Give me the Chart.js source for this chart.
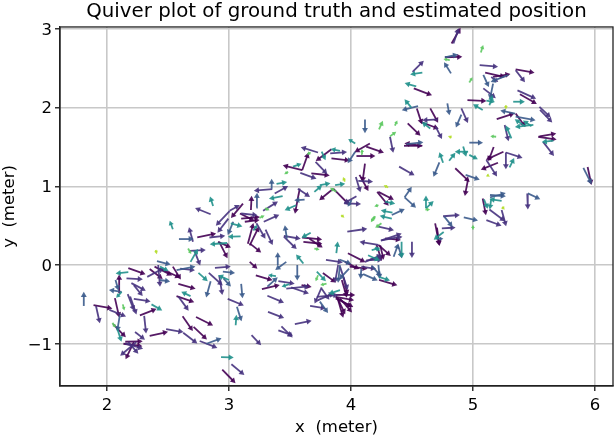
<!DOCTYPE html>
<html>
<head>
<meta charset="utf-8">
<title>Quiver plot</title>
<script src="https://cdn.jsdelivr.net/npm/chart.js@4"></script>
<style>
  html, body { margin: 0; padding: 0; background: #fff; }
  canvas { display: block; }
</style>
</head>
<body>
<canvas id="quiver" width="614" height="436"></canvas>
<script>
const xTickValues = [2, 3, 4, 5, 6];
const yTickValues = [-1, 0, 1, 2, 3];

// one list per colour band, each arrow is [tailX, tailY, tipX, tipY] in metres
const darkPurple = [
  [1.89,-.51,2.04,-.55],[2.10,-.36,2.10,-.13],[2.175,-.04,2.31,-.115],[2.065,-.42,2.10,-.66],
  [2.27,-.64,2.40,-.56],[2.05,-.75,2.15,-.91],[2.22,-.98,2.155,-1.19],[2.15,-.975,2.285,-.97],
  [2.135,-1.0,2.285,-1.03],[2.35,-.90,2.495,-.85],[2.71,-.785,2.815,-.94],[2.62,-.65,2.70,-.83],
  [2.73,-.66,2.865,-.765],[2.57,-.395,2.71,-.47],[2.585,-.24,2.72,-.30],[2.945,-1.33,3.05,-1.495],
  [2.39,-.02,2.53,-.13],[2.35,-.05,2.45,-.17],[2.54,-.02,2.60,-.17],[2.435,-.045,2.60,-.16],
  [2.74,.35,2.89,.40],[2.91,.295,3.005,.23],[2.92,.295,2.985,.095],[3.115,.78,3.02,.605],
  [3.18,.70,3.185,.86],[3.10,.59,3.25,.61],[3.13,.55,3.24,.57],[3.09,.655,3.20,.57],
  [3.155,.27,3.20,.53],[3.17,.25,3.245,.485],[3.60,1.205,3.445,1.265],[3.60,1.205,3.65,1.42],
  [3.84,1.47,3.715,1.325],[3.675,1.165,3.82,1.14],[3.84,1.355,3.985,1.33],[3.58,.97,3.54,.645],
  [3.855,.97,3.745,.83],[3.855,.97,3.99,.76],[3.60,.35,3.76,.325],[3.61,.295,3.76,.27],
  [3.66,.335,3.76,.23],[3.17,.04,3.22,-.03],[3.17,.275,3.255,.17],[3.22,-.13,3.35,-.19],
  [3.27,-.305,3.41,-.255],[3.595,-.255,3.66,-.275],[3.77,-.10,3.87,-.215],[3.925,-.19,3.965,-.405],
  [3.94,-.16,3.97,-.37],[3.875,-.38,4.03,-.38],[3.875,-.405,4.02,-.445],[3.875,-.425,4.015,-.53],
  [3.875,-.405,4.0,-.53],[3.895,-.445,3.935,-.66],[3.89,-.425,3.95,-.615],[3.91,-.425,4.005,-.595],
  [3.95,.04,4.06,-.045],[3.975,.15,4.115,.04],[4.21,.255,4.25,.065],[4.225,.255,4.32,.125],
  [4.28,.34,4.40,.32],[3.99,-.02,4.13,-.045],[4.23,-.19,4.375,-.255],[4.155,1.545,4.035,1.44],
  [4.125,1.505,4.265,1.43],[4.045,1.385,4.195,1.385],[4.115,1.29,4.095,1.06],[4.07,1.145,4.14,.95],
  [4.215,.93,4.305,.76],[4.225,.93,4.345,.835],[4.24,.25,4.265,.085],[4.585,1.515,4.445,1.545],
  [4.435,1.515,4.58,1.515],[4.855,1.23,4.97,1.06],[4.96,1.09,4.935,.89],[5.17,1.50,5.13,1.335],
  [5.25,1.44,5.11,1.34],[5.205,1.30,5.07,1.215],[4.69,.53,4.725,.25],[4.705,.475,4.725,.25],
  [5.08,.845,5.105,.645],[4.825,2.815,4.895,3.005],[4.77,2.64,4.905,2.645],[5.10,2.445,5.26,2.39],
  [5.165,2.39,5.30,2.425],[5.35,2.485,5.50,2.445],[4.515,2.245,4.66,2.16],[5.385,2.17,5.52,2.05],
  [4.955,2.095,5.105,2.085],[4.54,1.99,4.58,1.80],[4.65,1.99,4.71,1.82],[4.57,1.82,4.715,1.735],
  [5.195,1.855,5.335,1.925],[5.35,1.925,5.425,1.765],[4.465,1.80,4.565,1.65],[5.545,1.635,5.675,1.67],
  [5.535,1.63,5.68,1.595],[5.94,1.245,5.97,1.025]
];
const indigo = [
  [1.91,-.52,1.94,-.73],[2.16,-.17,2.285,-.18],[2.20,-.23,2.31,-.32],[2.22,-.255,2.285,-.38],
  [2.22,-.43,2.35,-.46],[2.17,-.37,2.22,-.57],[2.19,-.40,2.24,-.62],[2.02,-.57,2.15,-.65],
  [2.305,-.645,2.32,-.86],[2.23,-.85,2.30,-.935],[2.24,-.98,2.11,-1.15],[2.175,-.98,2.25,-1.115],
  [2.15,-1.0,2.29,-1.06],[2.485,-.815,2.62,-.85],[2.625,-.86,2.735,-.99],[2.585,-.40,2.665,-.57],
  [2.835,-.10,2.945,-.255],[2.92,-.13,2.945,-.375],[2.885,-.035,3.005,-.02],[2.99,-.43,3.115,-.51],
  [3.185,-.89,3.255,-1.005],[2.76,-.965,2.90,-1.05],[3.02,-1.26,3.12,-1.39],[2.68,.18,2.80,.19],
  [2.72,.17,2.76,.01],[2.33,-.15,2.46,-.045],[2.42,0,2.435,-.275],[2.60,-.045,2.71,-.065],
  [2.85,.645,2.73,.72],[2.705,.295,2.675,.465],[2.84,.35,2.96,.37],[3.005,.685,2.895,.505],
  [2.995,.59,2.91,.42],[3.005,.69,3.075,.75],[3.10,.655,3.225,.635],[3.225,.53,3.295,.345],
  [3.30,.45,3.355,.265],[3.28,.69,3.395,.80],[3.285,.55,3.405,.635],[3.355,.965,3.21,.945],
  [3.375,.91,3.475,.995],[3.73,1.43,3.595,1.495],[3.71,1.31,3.80,1.165],[3.585,1.17,3.71,1.10],
  [3.83,1.42,3.96,1.435],[3.565,.97,3.655,.875],[3.45,.37,3.58,.335],[3.45,.36,3.55,.21],
  [3.405,-.205,3.53,-.235],[3.47,-.30,3.66,-.27],[3.51,-.285,3.65,-.36],[3.315,-.39,3.445,-.475],
  [3.32,-.595,3.445,-.67],[3.54,-.75,3.67,-.71],[3.43,-.78,3.515,-.91],[3.405,-.83,3.515,-.89],
  [3.76,-.285,3.705,-.48],[3.76,-.30,3.815,-.425],[3.665,-.52,3.785,-.55],[3.72,-.405,3.895,-.38],
  [3.73,-.445,3.855,-.36],[3.895,0,3.87,-.215],[3.91,-.02,3.975,-.32],[3.795,.065,3.925,.035],
  [3.97,.425,4.13,.46],[4.215,.49,4.345,.445],[4.225,.255,4.075,.295],[4.115,.04,4.25,.125],
  [4.155,.07,4.24,.10],[4.125,.06,4.25,.07],[4.245,.31,4.415,.40],[4.25,.315,4.42,.36],
  [4.50,.295,4.50,.105],[4.085,-.02,4.195,-.045],[4.04,1.12,4.075,.94],[4.06,1.07,4.17,1.06],
  [4.045,.875,3.95,.79],[3.945,.785,4.075,.775],[4.395,1.25,4.515,1.145],[5.11,1.335,5.195,1.13],
  [5.27,1.43,5.27,1.23],[5.27,1.43,5.40,1.365],[4.755,.62,4.885,.635],[4.745,.465,4.845,.475],
  [5.135,.705,5.26,.56],[5.235,.70,5.27,.505],[5.11,.57,5.225,.505],[5.445,.91,5.45,.72],
  [4.84,2.815,4.88,2.995],[4.505,2.455,4.59,2.585],[5.055,2.54,5.20,2.52],[5.35,2.475,5.42,2.335],
  [5.15,2.39,5.195,2.34],[5.085,2.245,5.18,2.13],[5.365,2.22,5.515,2.115],[4.905,1.99,4.955,1.82],
  [4.71,1.85,4.595,1.84],[4.695,1.755,4.74,1.62],[5.545,2.01,5.63,1.885],[5.55,1.97,5.645,1.82],
  [5.26,1.78,5.29,1.585],[4.32,1.63,4.345,1.44],[5.575,1.565,5.66,1.395]
];
const blue = [
  [1.81,-.52,1.81,-.36],[2.12,-.34,2.03,-.32],[2.07,-.19,2.09,-.30],[2.105,-.64,2.085,-.83],
  [2.85,-.205,2.815,-.40],[2.95,-.085,3.035,-.10],[2.955,-.17,3.005,-.255],[3.10,-.24,3.11,-.405],
  [3.065,-.53,3.10,-.70],[2.815,-1.0,2.93,-.935],[2.41,.05,2.51,.01],[2.435,-.19,2.50,-.205],
  [2.57,-.065,2.72,-.02],[2.59,.33,2.70,.33],[3.035,.55,2.995,.40],[3.225,.73,3.23,.90],
  [3.35,.97,3.35,1.07],[3.62,.83,3.553,.825],[3.475,.335,3.46,.485],[3.40,0,3.40,.14],
  [3.47,.04,3.39,-.05],[3.56,0,3.56,-.18],[3.315,-.275,3.39,-.17],[3.745,-.465,3.805,-.595],
  [3.91,0,3.895,-.215],[3.985,-.045,3.91,-.17],[3.905,.07,3.99,.02],[4.35,.105,4.385,.255],
  [4.385,.255,4.415,.105],[4.085,-.045,4.08,-.15],[4.10,-.115,4.21,-.19],[4.17,-.01,4.24,-.13],
  [4.225,0,4.235,-.16],[4.115,1.85,4.115,1.695],[4.035,1.44,3.98,1.31],[4.005,.825,3.98,.76],
  [4.335,.635,4.43,.705],[4.725,1.305,4.68,1.135],[4.455,1.535,4.585,1.56],[4.94,1.145,5.045,1.09],
  [4.97,1.555,5.07,1.555],[4.44,.86,4.49,.975],[4.44,.86,4.525,.74],[4.765,.615,4.825,.50],
  [4.70,.335,4.745,.335],[4.925,.605,5.03,.57],[5.14,.86,5.26,.91],[5.14,.89,5.26,.875],
  [5.45,.91,5.54,.845],[4.77,2.64,4.865,2.67],[4.82,2.435,4.77,2.56],[5.29,2.415,5.15,2.33],
  [5.085,2.415,5.125,2.28],[5.165,2.305,5.14,2.115],[4.55,2.02,4.425,1.97],[4.79,2.055,4.805,1.925],
  [4.905,1.91,4.865,1.765],[5.345,1.925,5.235,1.96],[5.35,1.885,5.51,1.84],[5.905,1.235,5.97,1.035]
];
const teal = [
  [2.12,-.34,2.085,-.40],[2.175,-.09,2.085,-.105],[2.365,-.50,2.44,-.565],[2.085,-.81,2.115,-.955],
  [2.685,-.395,2.625,-.35],[2.75,-.10,2.815,-.19],[3.0,-.19,2.925,-.14],[3.055,-.765,3.06,-.66],
  [2.935,-1.17,3.025,-1.175],[2.685,.04,2.74,.19],[2.435,-.02,2.49,-.065],[2.87,.75,2.85,.845],
  [2.54,.455,2.52,.54],[2.985,.28,2.85,.265],[3.015,.53,3.095,.495],[3.095,.365,3.005,.36],
  [3.20,.44,3.225,.495],[3.44,.875,3.34,.845],[3.39,1.03,3.46,1.05],[3.525,1.25,3.58,1.28],
  [3.76,1.44,3.785,1.355],[3.91,1.45,3.85,1.47],[3.745,1.015,3.815,1.035],[3.70,.93,3.75,.995],
  [3.55,.76,3.47,.705],[3.87,1.015,3.935,1.03],[3.67,.41,3.61,.36],[3.88,.15,3.89,.275],
  [3.61,.02,3.56,.115],[3.385,-.14,3.335,-.13],[3.495,-.243,3.445,-.268],[3.72,-.085,3.785,-.19],
  [3.91,-.32,3.83,-.36],[4.17,.19,4.225,.21],[4.14,.125,4.225,.065],[4.415,.295,4.415,.10],
  [4.23,-.15,4.305,-.19],[4.035,1.545,3.99,1.59],[4.28,.805,4.345,.785],[4.34,.665,4.26,.69],
  [4.335,.59,4.25,.62],[4.195,.22,4.23,.19],[4.755,1.30,4.73,1.41],[4.805,1.325,4.845,1.405],
  [4.96,1.44,4.865,1.44],[4.92,1.505,4.94,1.40],[4.97,1.40,5.025,1.355],[5.30,1.24,5.33,1.335],
  [4.615,.72,4.615,.86],[4.615,.72,4.665,.795],[4.76,.42,4.69,.335],[5.09,.835,5.115,.74],
  [5.15,.845,5.14,.73],[5.235,.815,5.15,.835],[4.585,2.445,4.50,2.425],[4.535,2.27,4.455,2.305],
  [5.11,2.09,5.165,2.075],[5.135,2.03,5.155,2.13],[5.33,2.075,5.41,2.075],[4.495,2.0,4.45,2.085],
  [5.08,1.97,5.015,2.03],[4.65,1.735,4.595,1.80],[5.425,1.765,5.355,1.84],[5.495,1.78,5.35,1.755],
  [5.48,1.765,5.425,1.82],[5.315,1.61,5.275,1.755],[5.66,1.58,5.58,1.565]
];
const green = [
  [2.13,-.50,2.14,-.56],[2.045,-.735,2.065,-.78],[2.665,.21,2.685,.155],[3.25,.60,3.28,.62],
  [3.485,1.185,3.465,1.165],[3.67,1.43,3.65,1.415],[3.88,.93,3.84,.97],[3.295,.72,3.32,.705],
  [3.70,.21,3.73,.20],[3.73,-.13,3.715,-.19],[3.80,-.235,3.76,-.25],[4.17,.565,4.195,.605],
  [4.23,1.725,4.255,1.81],[4.095,1.41,4.09,1.455],[4.225,.76,4.205,.75],[4.195,.62,4.17,.56],
  [4.25,.53,4.21,.485],[4.61,.705,4.635,.705],[5.0,.45,5.0,.49],[4.81,2.605,4.77,2.615],
  [5.065,2.70,5.08,2.775],[4.97,2.32,4.99,2.37],[4.36,1.77,4.375,1.82],[4.32,1.635,4.36,1.68],
  [5.19,1.63,5.155,1.635]
];
const lime = [
  [2.40,.19,2.405,.16],[3.92,.635,3.935,.615],[3.95,1.06,3.94,1.10],[4.305,.985,4.28,1.005],
  [5.115,1.145,5.125,1.135],[5.24,.74,5.25,.72],[5.27,2.03,5.27,2.0],[4.825,1.62,4.81,1.63]
];

const bands = [
  { arrows: lime, color: '#b5de2be6' },
  { arrows: green, color: '#5ec962e6' },
  { arrows: teal, color: '#21918ce6' },
  { arrows: blue, color: '#3b5b8ce6' },
  { arrows: indigo, color: '#46327ee6' },
  { arrows: darkPurple, color: '#440154e6' }
];

function pixelDelta(ctx) {
  const scales = ctx.chart.scales;
  const d = ctx.dataset.data;
  return {
    dx: scales.x.getPixelForValue(d[1].x) - scales.x.getPixelForValue(d[0].x),
    dy: scales.y.getPixelForValue(d[1].y) - scales.y.getPixelForValue(d[0].y),
  };
}

const datasets = [];
bands.forEach((band) => {
  band.arrows.forEach((a) => {
    datasets.push({
      // stop the line a little short so the head ends near the tip
      data: [{ x: a[0], y: a[1] }, { x: a[0] + (a[2] - a[0]) * 0.85, y: a[1] + (a[3] - a[1]) * 0.85 }],
      showLine: true,
      borderColor: band.color,
      borderWidth: 1.8,
      pointStyle: 'triangle',
      pointBackgroundColor: band.color,
      pointBorderWidth: 0,
      pointHitRadius: 0,
      pointRadius: (ctx) => {
        if (ctx.dataIndex === 0) return 0;
        const p = pixelDelta(ctx);
        return Math.min(3.4, Math.max(2.2, Math.hypot(p.dx, p.dy) * 0.5));
      },
      pointRotation: (ctx) => {
        const p = pixelDelta(ctx);
        return Math.atan2(p.dx, -p.dy) * 180 / Math.PI;
      },
    });
  });
});

// matplotlib style frame on all four sides, title centred over the axes
const frame = {
  id: 'frame',
  afterLayout(chart) {
    chart.titleBlock.left = chart.chartArea.left;
    chart.titleBlock.right = chart.chartArea.right;
  },
  afterDraw(chart) {
    const a = chart.chartArea;
    const c = chart.ctx;
    c.save();
    c.strokeStyle = '#222';
    c.lineWidth = 1.3;
    c.strokeRect(a.left, a.top, a.right - a.left, a.bottom - a.top);
    c.restore();
  },
};

const tickFont = { family: 'DejaVu Sans', size: 16.5 };
const gridStyle = { color: '#c8c8c8', lineWidth: 1.6, tickColor: '#000', tickWidth: 1.2, tickLength: 5 };

new Chart(document.getElementById('quiver'), {
  type: 'scatter',
  data: { datasets },
  plugins: [frame],
  options: {
    responsive: false,
    animation: false,
    devicePixelRatio: 1,
    layout: { padding: { right: 1 } },
    plugins: {
      legend: { display: false },
      tooltip: { enabled: false },
      title: {
        display: true,
        text: 'Quiver plot of ground truth and estimated position',
        color: '#000',
        font: { family: 'DejaVu Sans', size: 19.8, weight: 'normal', lineHeight: 1.2 },
        padding: { top: 0, bottom: 3.2 },
      },
    },
    scales: {
      x: {
        type: 'linear',
        min: 1.615,
        max: 6.148,
        grid: gridStyle,
        border: { color: '#222', width: 1.3 },
        afterBuildTicks: (axis) => { axis.ticks = xTickValues.map((value) => ({ value })); },
        afterFit: (axis) => { axis.height = 50; },
        ticks: { color: '#000', font: tickFont, padding: 5, maxRotation: 0, autoSkip: false },
        title: {
          display: true,
          text: 'x  (meter)',
          color: '#000',
          font: { family: 'DejaVu Sans', size: 16.5 },
          padding: { top: 2, bottom: -1.5 },
        },
      },
      y: {
        type: 'linear',
        min: -1.537,
        max: 3.025,
        grid: gridStyle,
        border: { color: '#222', width: 1.3 },
        afterBuildTicks: (axis) => { axis.ticks = yTickValues.map((value) => ({ value })); },
        afterFit: (axis) => { axis.width = 60; },
        ticks: {
          color: '#000',
          font: tickFont,
          padding: 3,
          labelOffset: 1.5,
          autoSkip: false,
          callback: (v) => String(v).replace('-', '\u2212'),
        },
        title: {
          display: true,
          text: 'y  (meter)',
          color: '#000',
          font: { family: 'DejaVu Sans', size: 16.5 },
          padding: { top: 0, bottom: 2 },
        },
      },
    },
  },
});
</script>
</body>
</html>
